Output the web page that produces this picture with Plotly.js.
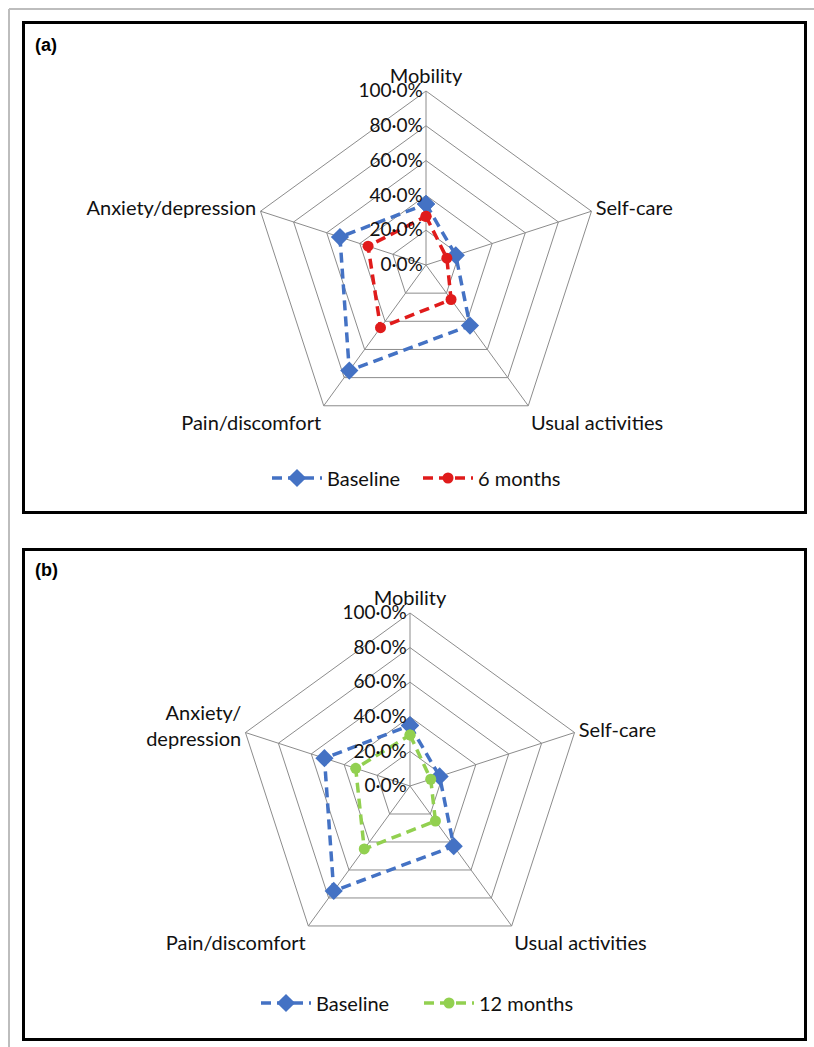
<!DOCTYPE html>
<html>
<head>
<meta charset="utf-8">
<script src="https://cdn.plot.ly/plotly-3.0.1.min.js"></script>
<style>
html,body{margin:0;padding:0;background:#fff;}
#chart{width:814px;height:1047px;}
</style>
</head>
<body>
<div id="chart"></div>
<script>
// ---- data ----
var dimensionsA = ['Mobility', 'Self-care', 'Usual activities', 'Pain/discomfort', 'Anxiety/depression'];
var dimensionsB = ['Mobility', 'Self-care', 'Usual activities', 'Pain/discomfort', 'Anxiety/<br>depression'];
var baselineA = [35, 18, 43, 75, 52];
var sixMonths = [28, 12.6, 24.5, 44.5, 35];
var baselineB = [35, 18, 43, 75, 52];
var twelveMonths = [29.5, 12.6, 25, 45, 33];
var tickValues = [0, 20, 40, 60, 80, 100];
var tickLabels = ['0·0%', '20·0%', '40·0%', '60·0%', '80·0%', '100·0%'];
var seriesNamesA = ['Baseline', '6 months'];
var seriesNamesB = ['Baseline', '12 months'];

// ---- helpers ----
function closeLoop(arr) { return arr.concat([arr[0]]); }
var W = 814, H = 1047;
function px(x) { return x / W; }
function py(y) { return 1 - y / H; }

var FONT = 'Lato, "Open Sans", sans-serif';
var BLUE = '#4472C4', RED = '#E01B1B', GREEN = '#92D050';
var GRID = '#8c8c8c';

function trace(vals, cats, name, color, symbol, msize, subplot, legend) {
  return {
    type: 'scatterpolar',
    r: closeLoop(vals),
    theta: closeLoop(cats),
    name: name,
    mode: 'lines+markers',
    subplot: subplot,
    legend: legend,
    line: {color: color, width: 3.5, dash: '10px,6px'},
    marker: {color: color, symbol: symbol, size: msize},
    cliponaxis: false
  };
}

var data = [
  trace(baselineA, dimensionsA, seriesNamesA[0], BLUE, 'diamond', 14, 'polar', 'legend'),
  trace(sixMonths, dimensionsA, seriesNamesA[1], RED, 'circle', 11, 'polar', 'legend'),
  trace(baselineB, dimensionsB, seriesNamesB[0], BLUE, 'diamond', 14, 'polar2', 'legend2'),
  trace(twelveMonths, dimensionsB, seriesNamesB[1], GREEN, 'circle', 11, 'polar2', 'legend2')
];

function polarLayout(domainX, domainY, cats) {
  return {
    domain: {x: domainX, y: domainY},
    bgcolor: 'rgba(0,0,0,0)',
    gridshape: 'linear',
    angularaxis: {
      type: 'category',
      categoryarray: cats,
      rotation: 90,
      direction: 'clockwise',
      showline: true,
      linecolor: GRID,
      linewidth: 1,
      showgrid: true,
      gridcolor: GRID,
      gridwidth: 1,
      ticks: '',
      tickfont: {family: FONT, size: 20, color: '#111'}
    },
    radialaxis: {
      range: [0, 100],
      tickmode: 'array',
      tickvals: tickValues,
      ticktext: tickLabels,
      angle: 90,
      side: 'counterclockwise',
      tickangle: 90,
      showline: false,
      showgrid: true,
      gridcolor: GRID,
      gridwidth: 1,
      ticks: '',
      tickfont: {family: FONT, size: 19, color: '#111'}
    }
  };
}

function legendFor(x, y, entryW) {
  return {
    orientation: 'h', xanchor: 'center', yanchor: 'middle', x: x, y: y,
    font: {family: FONT, size: 20, color: '#111'}, itemwidth: 50, entrywidth: entryW,
    bgcolor: 'rgba(0,0,0,0)'
  };
}

var layout = {
  width: W, height: H,
  margin: {l: 0, r: 0, t: 0, b: 0},
  paper_bgcolor: '#fff',
  plot_bgcolor: '#fff',
  font: {family: FONT, size: 20, color: '#111'},
  polar: polarLayout([px(252), px(600)], [py(439), py(91)], dimensionsA),
  polar2: polarLayout([px(237), px(583)], [py(959), py(613)], dimensionsB),
  legend: legendFor(px(418), py(478), 86),
  legend2: legendFor(px(419), py(1003), 98),
  shapes: [
    {type: 'line', xref: 'paper', yref: 'paper', x0: px(9), x1: px(814), y0: py(9), y1: py(9), line: {color: '#bdbdbd', width: 2}},
    {type: 'line', xref: 'paper', yref: 'paper', x0: px(9), x1: px(9), y0: py(9), y1: py(1047), line: {color: '#bdbdbd', width: 2}},
    {type: 'rect', xref: 'paper', yref: 'paper', x0: px(23.5), x1: px(805.5), y0: py(22.5), y1: py(512.5), line: {color: '#000', width: 3}},
    {type: 'rect', xref: 'paper', yref: 'paper', x0: px(23.5), x1: px(805.5), y0: py(549.5), y1: py(1039.5), line: {color: '#000', width: 3}}
  ],
  annotations: [
    {text: '<b>(a)</b>', xref: 'paper', yref: 'paper', x: px(33), y: py(45), xanchor: 'left', yanchor: 'middle', showarrow: false, font: {family: 'Liberation Sans, Arial, sans-serif', size: 18, color: '#000'}},
    {text: '<b>(b)</b>', xref: 'paper', yref: 'paper', x: px(33), y: py(570), xanchor: 'left', yanchor: 'middle', showarrow: false, font: {family: 'Liberation Sans, Arial, sans-serif', size: 18, color: '#000'}}
  ]
};

Plotly.newPlot('chart', data, layout, {displayModeBar: false, staticPlot: true});
</script>
</body>
</html>
